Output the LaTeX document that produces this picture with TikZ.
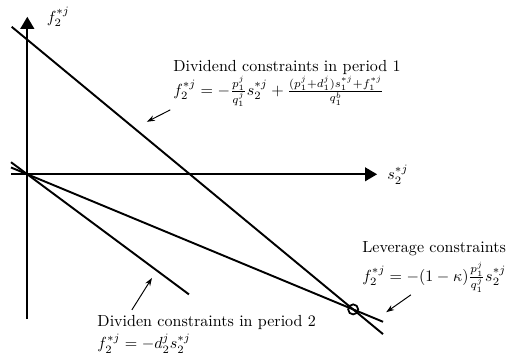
\documentclass[tikz,border=0pt]{standalone}
\usepackage{amsmath,amssymb}
\usepackage{tikz}
\usetikzlibrary{arrows.meta,positioning,calc}

\begin{document}
\begin{tikzpicture}[
    axis/.style={line width=1.2pt, -{Triangle[length=7.5pt,width=8.5pt]}},
    bound/.style={line width=1.2pt},
    pointer/.style={-{Stealth[length=5pt,width=3.5pt]}, line width=0.6pt},
    txt/.style={anchor=north west, align=left, inner sep=0pt},
    kink/.style={draw, circle, line width=1.1pt, minimum size=0.22cm, inner sep=0pt}
]
\useasboundingbox (-0.598,-4.067) rectangle (10.527,3.817);
% axes
\coordinate (o) at (0,0);
\coordinate (ybot) at (0,-3.17);
\coordinate (ytop) at (0,3.45);
\coordinate (xl) at (-0.357,0);
\coordinate (xr) at (7.66,0);
\draw[axis] (ybot) -- (ytop);
\draw[axis] (xl) -- (xr);
\node[anchor=west, inner sep=0pt] (flab) at (0.42,3.44) {$f_2^{*j}$};
\node[anchor=west, inner sep=0pt] (slab) at (7.88,0) {$s_2^{*j}$};
% constraint lines
\coordinate (d1a) at (-0.342,3.23);
\coordinate (d1b) at (7.79,-3.50);
\coordinate (leva) at (-0.357,0.149);
\coordinate (levb) at (7.79,-3.23);
\coordinate (d2a) at (-0.357,0.265);
\coordinate (d2b) at (3.54,-2.63);
\draw[bound] (d1a) -- (d1b);
\draw[bound] (leva) -- (levb);
\draw[bound] (d2a) -- (d2b);
\node[kink] (k) at (intersection of d1a--d1b and leva--levb) {};
% labels
\node[txt] (div1) at (3.19,2.50) {Dividend constraints in period 1\\ $f_2^{*j}=-\frac{p_1^j}{q_1^j}s_2^{*j}+\frac{(p_1^j+d_1^j)s_1^{*j}+f_1^{*j}}{q_1^b}$};
\node[txt] (lev) at (7.33,-1.46) {Leverage constraints\\[3pt] $f_2^{*j}=-(1-\kappa)\frac{p_1^j}{q_1^j}s_2^{*j}$};
\node[txt] (div2) at (1.53,-3.08) {Dividen constraints in period 2\\[2pt] $f_2^{*j}=-d_2^js_2^{*j}$};
% pointers
\coordinate (p1) at (3.13,1.41);
\coordinate (p1t) at (2.62,1.15);
\coordinate (p2) at (8.40,-2.64);
\coordinate (p2t) at (7.86,-3.02);
\coordinate (p3) at (2.29,-2.97);
\coordinate (p3t) at (2.73,-2.27);
\draw[pointer] (p1) -- (p1t);
\draw[pointer] (p2) -- (p2t);
\draw[pointer] (p3) -- (p3t);
\end{tikzpicture}
\end{document}
